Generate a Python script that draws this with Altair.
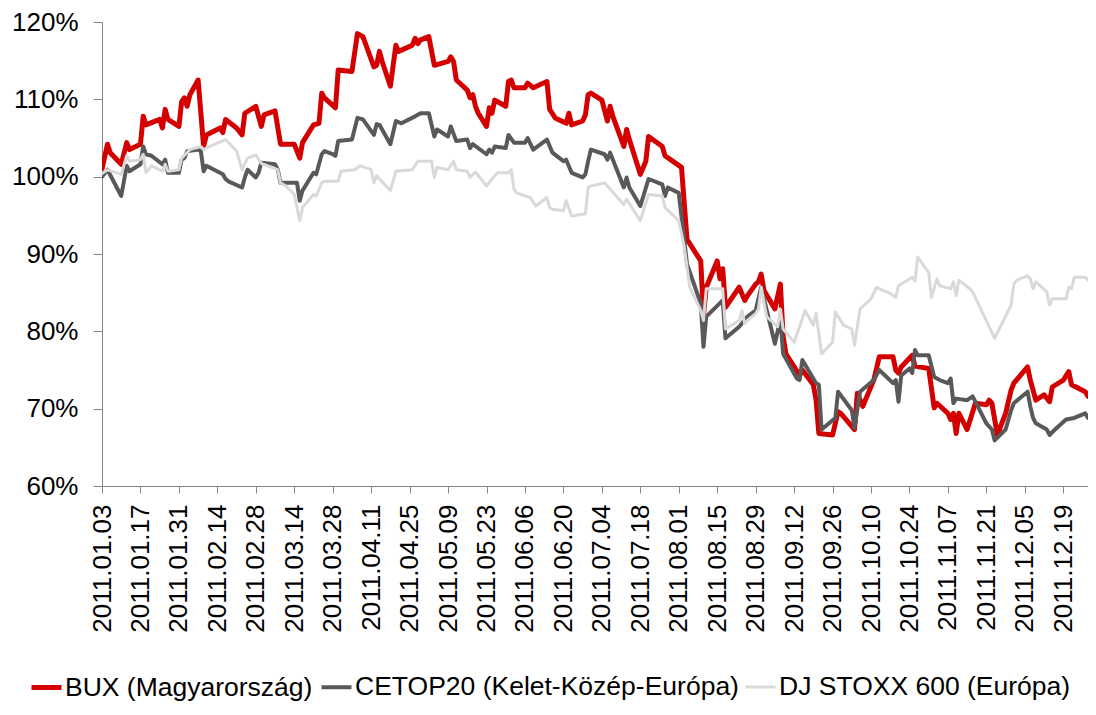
import altair as alt
import pandas as pd

# ---- axis tick labels (every two weeks) ----
tick_dates = ["01-03", "01-17", "01-31", "02-14", "02-28", "03-14", "03-28", "04-11",
              "04-25", "05-09", "05-23", "06-06", "06-20", "07-04", "07-18", "08-01",
              "08-15", "08-29", "09-12", "09-26", "10-10", "10-24", "11-07", "11-21",
              "12-05", "12-19"]
y_ticks = [60, 70, 80, 90, 100, 110, 120]

series_names = ["BUX (Magyarország)", "CETOP20 (Kelet-Közép-Európa)", "DJ STOXX 600 (Európa)"]
series_colors = ["#d40000", "#595959", "#d9d9d9"]
series_widths = [5, 3, 3]

# ---- BUX ----
bux_dates = ["01-03", "01-05", "01-06", "01-10", "01-12", "01-13", "01-17", "01-18", "01-19", "01-24",
             "01-25", "01-26", "01-27", "01-31", "02-01", "02-02", "02-03", "02-04", "02-07", "02-09",
             "02-10", "02-15", "02-16", "02-17", "02-21", "02-23", "02-24", "02-28", "03-02", "03-03",
             "03-07", "03-09", "03-14", "03-16", "03-17", "03-21", "03-23", "03-24", "03-25", "03-29",
             "03-30", "04-04", "04-06", "04-08", "04-12", "04-13", "04-14", "04-15", "04-18", "04-20",
             "04-21", "04-26", "04-27", "04-28", "04-29", "05-02", "05-04", "05-09", "05-10", "05-11",
             "05-12", "05-16", "05-17", "05-18", "05-19", "05-20", "05-23", "05-24", "05-25", "05-26",
             "05-30", "05-31", "06-01", "06-02", "06-06", "06-07", "06-09", "06-14", "06-15", "06-17",
             "06-21", "06-22", "06-23", "06-27", "06-28", "06-29", "06-30", "07-04", "07-06", "07-07",
             "07-08", "07-12", "07-13", "07-14", "07-18", "07-20", "07-21", "07-26", "07-27", "07-29",
             "08-02", "08-04", "08-09", "08-10", "08-11", "08-15", "08-16", "08-17", "08-18", "08-23",
             "08-25", "08-26", "08-29", "08-30", "08-31", "09-01", "09-05", "09-07", "09-08", "09-09",
             "09-14", "09-15", "09-19", "09-20", "09-21", "09-26", "09-28", "09-29", "10-04", "10-05",
             "10-07", "10-11", "10-13", "10-18", "10-19", "10-20", "10-21", "10-25", "10-26", "10-31",
             "11-02", "11-03", "11-07", "11-08", "11-09", "11-10", "11-11", "11-14", "11-17", "11-21",
             "11-22", "11-23", "11-25", "11-28", "11-30", "12-01", "12-06", "12-07", "12-09", "12-12",
             "12-14", "12-15", "12-19", "12-21", "12-22", "12-27", "12-28"]
bux_values = [101.0, 104.2, 103.1, 101.6, 104.4, 103.5, 104.2, 107.8, 106.7, 107.4,
              106.3, 108.7, 107.4, 106.5, 109.7, 110.2, 109.1, 110.6, 112.5, 103.9,
              105.4, 106.3, 105.7, 107.4, 106.3, 105.4, 108.2, 109.1, 106.5, 108.0,
              108.5, 104.2, 104.2, 102.4, 104.4, 106.7, 106.9, 110.8, 110.2, 108.9,
              113.8, 113.6, 118.5, 118.1, 114.2, 114.4, 116.2, 114.9, 111.7, 117.0,
              116.2, 117.0, 117.9, 117.2, 117.7, 118.1, 114.4, 114.9, 115.5, 114.9,
              112.5, 111.2, 110.2, 110.6, 109.1, 108.2, 106.5, 108.9, 108.2, 109.9,
              109.1, 112.3, 112.5, 111.5, 111.5, 112.1, 111.5, 112.3, 108.7, 107.6,
              106.9, 108.2, 106.7, 107.2, 108.0, 110.6, 110.8, 109.9, 107.2, 109.1,
              107.8, 103.9, 106.1, 104.8, 100.3, 102.0, 105.2, 103.9, 102.7, 102.2,
              101.2, 91.9, 89.1, 82.1, 85.7, 89.1, 86.8, 88.1, 83.1, 85.7,
              84.0, 84.6, 86.1, 86.4, 87.4, 85.3, 82.9, 86.1, 79.3, 77.1,
              74.3, 75.0, 73.1, 71.1, 66.8, 66.6, 69.6, 69.4, 67.3, 72.0,
              70.3, 73.7, 76.7, 76.7, 75.0, 74.6, 75.4, 76.9, 75.5, 75.2,
              70.1, 70.7, 69.4, 68.6, 69.4, 66.8, 69.4, 67.3, 70.7, 70.5,
              71.1, 70.7, 66.6, 69.4, 72.4, 73.3, 75.4, 73.7, 71.1, 71.8,
              70.9, 72.8, 73.7, 74.8, 73.1, 72.2, 71.6]

# ---- CETOP20 ----
cetop_dates = ["01-03", "01-05", "01-10", "01-12", "01-13", "01-17", "01-18", "01-19", "01-21", "01-25",
               "01-26", "01-27", "01-31", "02-01", "02-02", "02-03", "02-07", "02-08", "02-09", "02-10",
               "02-16", "02-17", "02-18", "02-23", "02-24", "02-25", "02-28", "03-01", "03-02", "03-07",
               "03-08", "03-09", "03-15", "03-16", "03-17", "03-21", "03-22", "03-24", "03-25", "03-28",
               "03-29", "03-30", "04-04", "04-06", "04-08", "04-12", "04-13", "04-14", "04-18", "04-20",
               "04-22", "04-27", "04-29", "05-02", "05-04", "05-05", "05-09", "05-10", "05-12", "05-16",
               "05-17", "05-18", "05-23", "05-24", "05-25", "05-26", "05-30", "05-31", "06-02", "06-06",
               "06-07", "06-09", "06-14", "06-16", "06-20", "06-21", "06-23", "06-27", "06-28", "06-29",
               "06-30", "07-05", "07-06", "07-07", "07-12", "07-13", "07-14", "07-18", "07-21", "07-26",
               "07-27", "07-28", "08-01", "08-04", "08-09", "08-10", "08-11", "08-17", "08-18", "08-23",
               "08-26", "08-29", "08-31", "09-05", "09-07", "09-08", "09-13", "09-14", "09-15", "09-20",
               "09-21", "09-22", "09-27", "09-28", "10-03", "10-04", "10-06", "10-11", "10-13", "10-18",
               "10-19", "10-20", "10-21", "10-24", "10-25", "10-26", "10-27", "10-31", "11-02", "11-04",
               "11-07", "11-08", "11-09", "11-10", "11-14", "11-16", "11-21", "11-23", "11-24", "11-28",
               "11-30", "12-01", "12-06", "12-07", "12-08", "12-09", "12-13", "12-14", "12-16", "12-20",
               "12-23", "12-27", "12-28"]
cetop_values = [100.0, 100.9, 97.5, 101.4, 100.7, 101.6, 103.9, 102.9, 102.7, 101.6,
                102.2, 100.5, 100.5, 102.2, 102.4, 103.3, 103.5, 103.3, 100.7, 101.4,
                100.3, 99.7, 99.4, 98.6, 99.9, 100.9, 99.9, 100.5, 101.8, 101.6,
                100.9, 99.2, 99.2, 96.9, 98.2, 100.5, 100.3, 102.9, 103.3, 102.9,
                102.7, 104.6, 104.8, 107.6, 107.4, 105.4, 106.8, 106.7, 104.2, 107.2,
                106.9, 107.8, 108.2, 108.2, 105.2, 106.1, 105.2, 106.5, 104.6, 104.8,
                103.7, 104.2, 102.9, 103.5, 103.1, 103.9, 103.7, 105.4, 104.4, 104.4,
                105.0, 103.5, 104.8, 103.1, 102.0, 102.2, 100.5, 99.9, 100.3, 102.0,
                103.5, 102.9, 102.2, 103.1, 98.6, 99.9, 98.6, 96.2, 99.7, 99.0,
                97.5, 98.6, 97.9, 88.7, 83.6, 78.0, 81.9, 84.0, 79.1, 80.6,
                81.9, 82.7, 85.7, 78.4, 81.6, 77.1, 73.9, 73.7, 76.3, 73.3,
                73.1, 67.3, 68.8, 72.2, 69.8, 67.5, 72.2, 73.7, 75.0, 73.3,
                73.7, 70.9, 74.3, 75.2, 74.6, 77.6, 76.9, 76.9, 74.1, 73.7,
                73.3, 73.9, 70.7, 71.3, 71.1, 71.6, 68.1, 67.3, 65.9, 67.3,
                69.8, 70.7, 72.2, 70.3, 68.8, 68.1, 67.3, 66.6, 67.3, 68.6,
                68.8, 69.4, 68.8]

# ---- DJ STOXX 600 ----
stoxx_dates = ["01-03", "01-05", "01-10", "01-12", "01-13", "01-17", "01-18", "01-19", "01-21", "01-25",
               "01-26", "01-27", "01-31", "02-01", "02-04", "02-08", "02-09", "02-11", "02-17", "02-21",
               "02-23", "02-25", "02-28", "03-02", "03-08", "03-09", "03-11", "03-14", "03-16", "03-17",
               "03-21", "03-22", "03-24", "03-25", "03-30", "03-31", "04-05", "04-07", "04-11", "04-12",
               "04-13", "04-18", "04-20", "04-26", "04-28", "05-03", "05-04", "05-05", "05-09", "05-11",
               "05-12", "05-16", "05-17", "05-19", "05-23", "05-25", "05-27", "05-31", "06-01", "06-02",
               "06-03", "06-08", "06-09", "06-10", "06-14", "06-15", "06-16", "06-20", "06-21", "06-23",
               "06-28", "06-29", "06-30", "07-05", "07-06", "07-07", "07-12", "07-13", "07-18", "07-21",
               "07-26", "07-27", "08-01", "08-03", "08-05", "08-09", "08-10", "08-11", "08-17", "08-18",
               "08-23", "08-24", "08-25", "08-26", "08-29", "08-30", "08-31", "09-02", "09-06", "09-07",
               "09-08", "09-12", "09-14", "09-16", "09-19", "09-20", "09-22", "09-26", "09-27", "09-28",
               "09-30", "10-03", "10-04", "10-06", "10-10", "10-12", "10-13", "10-17", "10-19", "10-20",
               "10-25", "10-26", "10-27", "10-31", "11-01", "11-03", "11-04", "11-08", "11-09", "11-10",
               "11-11", "11-15", "11-16", "11-24", "11-30", "12-01", "12-02", "12-06", "12-07", "12-08",
               "12-09", "12-13", "12-14", "12-15", "12-20", "12-21", "12-22", "12-23", "12-27", "12-28"]
stoxx_values = [100.4, 100.9, 100.3, 102.7, 102.0, 102.2, 102.9, 100.5, 101.4, 100.7,
                101.6, 100.7, 100.9, 102.4, 103.5, 103.9, 103.5, 103.9, 104.8, 103.3,
                100.9, 102.4, 102.8, 101.7, 100.9, 99.2, 98.8, 97.7, 94.3, 96.0,
                97.7, 97.5, 99.2, 99.4, 99.4, 100.7, 100.9, 101.4, 100.9, 99.2,
                100.1, 98.2, 100.7, 100.9, 102.0, 102.0, 99.9, 101.2, 100.9, 102.0,
                100.9, 100.7, 99.9, 100.6, 98.8, 99.7, 100.5, 100.5, 100.9, 98.4,
                97.9, 97.3, 96.7, 96.2, 97.3, 96.0, 95.8, 95.6, 96.9, 94.9,
                95.2, 98.6, 98.8, 99.2, 98.8, 98.4, 96.4, 97.1, 94.3, 97.7,
                97.5, 96.0, 94.3, 90.9, 85.7, 82.7, 81.4, 85.5, 85.5, 80.3,
                81.4, 82.7, 81.0, 81.4, 82.3, 82.9, 85.7, 81.9, 80.6, 82.9,
                80.3, 78.6, 80.6, 82.7, 80.8, 82.3, 77.1, 78.6, 82.5, 81.9,
                80.8, 80.3, 78.2, 82.9, 84.2, 85.7, 85.5, 84.9, 84.4, 85.9,
                87.0, 86.5, 89.6, 87.6, 84.4, 86.8, 85.9, 85.5, 86.4, 84.6,
                86.6, 85.5, 85.1, 79.1, 83.4, 86.1, 86.6, 87.2, 86.8, 85.5,
                86.4, 85.1, 83.4, 84.2, 84.2, 85.7, 85.5, 87.0, 87.0, 86.6]

YEAR = "2011-"
frames = []
for name, d, v in zip(series_names,
                      [bux_dates, cetop_dates, stoxx_dates],
                      [bux_values, cetop_values, stoxx_values]):
    frames.append(pd.DataFrame({"date": [YEAR + s for s in d], "value": v, "series": name}))
df = pd.concat(frames, ignore_index=True)


def ms(s):
    return int(pd.Timestamp(s, tz="UTC").timestamp() * 1000)


FONT = "Liberation Sans"
AXIS_GRAY = "#868686"

legend_opts = dict(
    title=None, orient="none", legendX=-73, legendY=648, direction="horizontal",
    columns=3, symbolType="stroke", symbolSize=900, labelFontSize=26.5, labelFont=FONT,
    labelColor="black", labelLimit=2000, columnPadding=0, labelOffset=1,
)

chart = alt.Chart(df).mark_line(strokeJoin="round", strokeCap="round", clip=True).encode(
    x=alt.X("date:T",
            scale=alt.Scale(type="utc", domain=[ms("2011-01-03"), ms("2011-12-28")], nice=False),
            axis=alt.Axis(title=None, values=[ms(YEAR + t) for t in tick_dates],
                          labelExpr="utcFormat(datum.value, '%Y.%m.%d')",
                          labelAngle=270, labelFontSize=26, labelFont=FONT, labelColor="black",
                          labelFlush=False, labelOverlap=False, labelPadding=11,
                          tickSize=7, tickColor=AXIS_GRAY, domainColor=AXIS_GRAY,
                          grid=False)),
    y=alt.Y("value:Q",
            scale=alt.Scale(domain=[60, 120], nice=False, zero=False),
            axis=alt.Axis(title=None, values=y_ticks, labelExpr="datum.value + '%'",
                          labelFontSize=26, labelFont=FONT, labelColor="black",
                          labelFlush=False, labelPadding=15, tickSize=9,
                          tickColor=AXIS_GRAY, domainColor=AXIS_GRAY, grid=False)),
    color=alt.Color("series:N", scale=alt.Scale(domain=series_names, range=series_colors),
                    legend=alt.Legend(**legend_opts)),
    strokeWidth=alt.StrokeWidth("series:N", scale=alt.Scale(domain=series_names, range=series_widths),
                                legend=alt.Legend(**legend_opts)),
).properties(
    width=986,
    height=464,
    autosize=alt.AutoSizeParams(type="none"),
    padding={"left": 94, "top": 14, "right": 0, "bottom": 216},
    background="white",
).configure_view(stroke=None)

chart.save("out.html", embed_options={"renderer": "svg", "actions": False})
